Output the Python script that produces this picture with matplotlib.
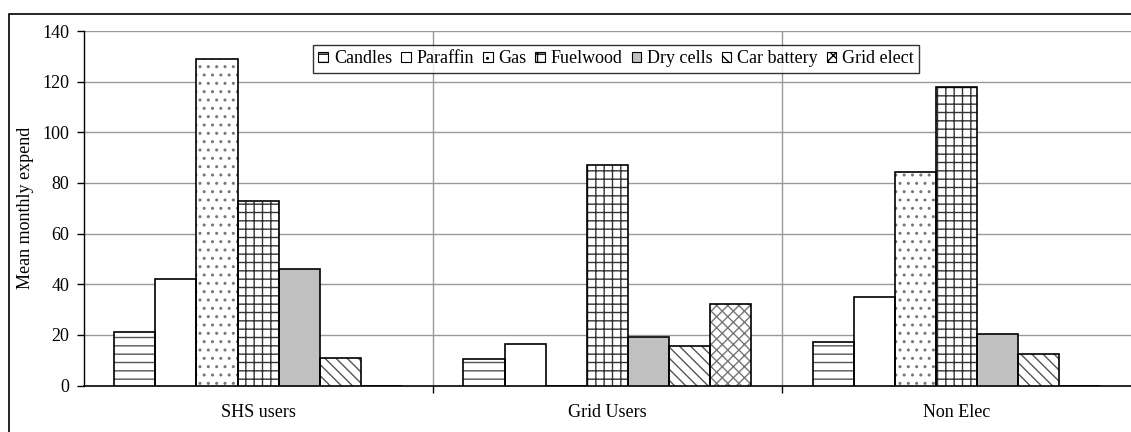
import matplotlib
matplotlib.use("Agg")
import matplotlib.pyplot as plt
import numpy as np
from matplotlib.patches import Rectangle, Patch

plt.rcParams['font.family'] = ['Liberation Serif', 'DejaVu Serif']
plt.rcParams['hatch.linewidth'] = 1.0

categories = ["SHS users", "Grid Users", "Non Elec"]
series_names = ["Candles", "Paraffin", "Gas", "Fuelwood", "Dry cells", "Car battery", "Grid elect"]
candles = [21, 10.5, 17]
paraffin = [42, 16.5, 35]
gas = [129, 0, 84.5]
fuelwood = [73, 87, 118]
dry_cells = [46, 19, 20.5]
car_battery = [11, 15.5, 12.5]
grid_elect = [0, 32, 0]
values = [candles, paraffin, gas, fuelwood, dry_cells, car_battery, grid_elect]
yticks = [0, 20, 40, 60, 80, 100, 120, 140]

styles = [
    dict(face='white', hatch='--', hcol='#555555'),
    dict(face='white', hatch='', hcol='black'),
    dict(face='white', hatch='..', hcol='#777777'),
    dict(face='white', hatch='++', hcol='#333333'),
    dict(face='#C0C0C0', hatch='', hcol='black'),
    dict(face='white', hatch='\\\\\\', hcol='#555555'),
    dict(face='white', hatch='xxx', hcol='#777777'),
]

FS = 13
fig = plt.figure(figsize=(11.31, 4.32), dpi=100)
ax = fig.add_axes([83.5/1131, 1-385.5/432, (1131-83.5)/1131, (385.5-31)/432])

bw = 1/8.5
x = np.arange(len(categories))
for i, (vals, st) in enumerate(zip(values, styles)):
    pos = x - 0.5 + 0.75*bw + (i+0.5)*bw
    ax.bar(pos, vals, width=bw, color=st['face'], edgecolor=st['hcol'],
           hatch=st['hatch'], linewidth=0, zorder=3)
    ax.bar(pos, vals, width=bw, fill=False, edgecolor='black', linewidth=1.2, zorder=4)

ax.set_xlim(-0.5, 2.5)
ax.set_ylim(0, 140)
ax.set_yticks(yticks)
ax.set_xticks(x)
ax.set_xticklabels(categories, fontsize=FS)
ax.tick_params(axis='x', length=0, pad=13)
ax.set_xticks([0.5, 1.5], minor=True)
ax.tick_params(axis='x', which='minor', length=5, width=1, color='black', direction='out')
ax.tick_params(axis='y', labelsize=FS, length=5, width=1, direction='out', pad=5)
for yv in yticks[1:]:
    ax.axhline(yv, color='#999999', lw=1, zorder=1)
for xv in [0.5, 1.5]:
    ax.axvline(xv, color='#999999', lw=1, zorder=1)
for s in ['top', 'right']:
    ax.spines[s].set_visible(False)
ax.spines['left'].set_linewidth(1)
ax.spines['bottom'].set_linewidth(1.2)
ax.set_ylabel("Mean monthly expend", fontsize=FS, labelpad=6)

handles = [Patch(facecolor=st['face'], edgecolor='black', hatch=st['hatch'], linewidth=0.8)
           for st in styles]
leg = ax.legend(handles, series_names, ncol=7, loc='upper left',
                bbox_to_anchor=((313-83.5)/1047.5, 1+(31-45)/354.5),
                fontsize=FS, frameon=True, fancybox=False, edgecolor='black',
                handlelength=0.55, handleheight=0.55, handletextpad=0.3,
                columnspacing=0.5, borderpad=0.3, borderaxespad=0)
leg.get_frame().set_linewidth(1)
leg.set_zorder(10)

fig.patches.append(Rectangle((8.5/1131, -0.05), 1.1, 1-14/432+0.05,
                             transform=fig.transFigure, fill=False,
                             edgecolor='black', linewidth=1.2, clip_on=False))

fig.savefig("out.png", dpi=100)
